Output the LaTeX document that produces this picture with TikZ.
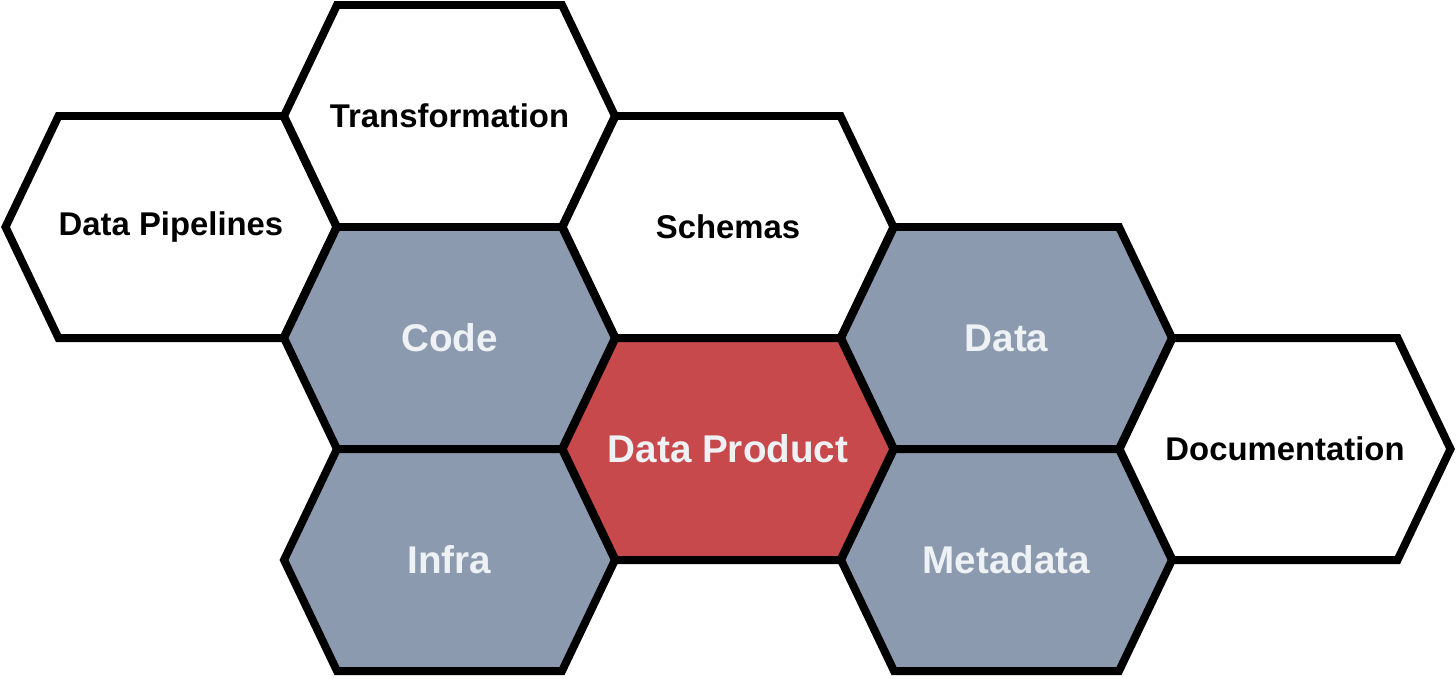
\documentclass[tikz,border=0pt]{standalone}
\usepackage{fontspec}
\setmainfont{Liberation Sans}
\definecolor{cellgrey}{HTML}{8C9AB0}
\definecolor{cellred}{HTML}{C8494B}
\definecolor{celltext}{HTML}{EEF2F5}
\tikzset{
  hexcell/.style={draw=black,line width=4.55pt,line join=miter},
  darklabel/.style={font=\bfseries\fontsize{18.7}{22}\selectfont,text=black},
  lightlabel/.style={font=\bfseries\fontsize{22}{26}\selectfont,text=celltext},
}
\newcommand{\hexat}[3]{\draw[hexcell,fill=#3] (#1,#2) +(-165.5,0) -- +(-112.5,-111) -- +(112.5,-111) -- +(165.5,0) -- +(112.5,111) -- +(-112.5,111) -- cycle;}

\begin{document}
\begin{tikzpicture}[x=0.02cm,y=-0.02cm]
\useasboundingbox (0,0) rectangle (1456,679);
\hexat{171}{227}{white}
\hexat{449.5}{116}{white}
\hexat{728}{227}{white}
\hexat{449.5}{338}{cellgrey}
\hexat{449.5}{560}{cellgrey}
\hexat{1006.5}{338}{cellgrey}
\hexat{1006.5}{560}{cellgrey}
\hexat{1285}{449}{white}
\hexat{728}{449}{cellred}

\node[darklabel] (pipelines) at (171,227) {Data Pipelines};
\node[darklabel] (transformation) at (449.5,116) {Transformation};
\node[darklabel] (schemas) at (728,227) {Schemas};
\node[lightlabel] (code) at (449.5,338) {Code};
\node[lightlabel] (infra) at (449.5,560) {Infra};
\node[lightlabel] (product) at (728,449) {Data Product};
\node[lightlabel] (data) at (1006.5,338) {Data};
\node[lightlabel] (metadata) at (1006.5,560) {Metadata};
\node[darklabel] (documentation) at (1285,449) {Documentation};
\end{tikzpicture}
\end{document}
